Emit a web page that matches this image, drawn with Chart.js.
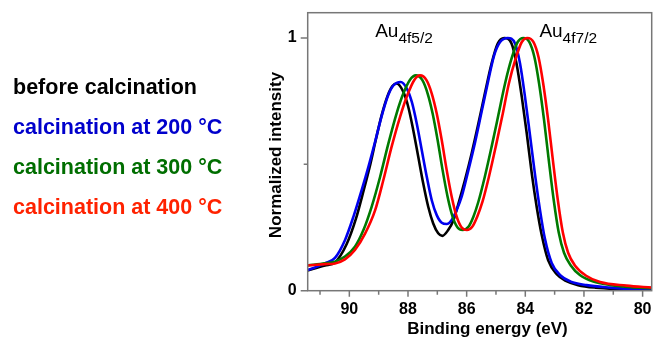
<!DOCTYPE html>
<html>
<head>
<meta charset="utf-8">
<script src="https://cdn.jsdelivr.net/npm/chart.js@4"></script>
<style>
  html, body { margin: 0; padding: 0; background: #fff; }
  canvas { display: block; }
</style>
</head>
<body>
<canvas id="xpsChart" width="654" height="341"></canvas>
<script>
// binding energy (eV) / normalized intensity
const beforeE = [91.42, 90.83, 90.49, 90.09, 89.78, 89.51, 89.28, 89.1, 88.9, 88.69, 88.53, 88.385, 88.16, 87.99, 87.82, 87.65, 87.48, 87.31, 87.14, 86.97, 86.83, 86.63, 86.45, 86.28, 86.06, 85.83, 85.6, 85.38, 85.15, 84.94, 84.72, 84.47, 84.3, 84.12, 83.95, 83.78, 83.61, 83.44, 83.22, 82.93, 82.6, 82.2, 81.6, 80.8, 79.69];
const beforeI = [0.08, 0.10, 0.112, 0.185, 0.283, 0.398, 0.503, 0.596, 0.694, 0.773, 0.81, 0.82, 0.787, 0.727, 0.635, 0.53, 0.424, 0.332, 0.266, 0.227, 0.217, 0.24, 0.279, 0.345, 0.437, 0.543, 0.661, 0.78, 0.899, 0.978, 1.0, 0.978, 0.899, 0.767, 0.622, 0.464, 0.33, 0.22, 0.12, 0.065, 0.038, 0.022, 0.012, 0.007, 0.004];

const c200E = [91.42, 90.83, 90.49, 90.15, 89.86, 89.58, 89.35, 89.12, 88.9, 88.67, 88.5, 88.25, 88.04, 87.87, 87.7, 87.53, 87.36, 87.19, 87.02, 86.85, 86.68, 86.51, 86.34, 86.17, 85.94, 85.71, 85.49, 85.26, 85.06, 84.86, 84.6, 84.35, 84.18, 84.01, 83.84, 83.67, 83.5, 83.33, 83.1, 82.8, 82.45, 81.91, 81.11, 80.4, 79.69];
const c200I = [0.082, 0.108, 0.13, 0.20, 0.293, 0.398, 0.49, 0.59, 0.69, 0.775, 0.812, 0.826, 0.80, 0.747, 0.661, 0.556, 0.451, 0.358, 0.299, 0.269, 0.264, 0.28, 0.319, 0.372, 0.477, 0.589, 0.708, 0.833, 0.932, 0.984, 1.0, 0.978, 0.899, 0.767, 0.615, 0.46, 0.32, 0.205, 0.11, 0.06, 0.036, 0.022, 0.012, 0.006, 0.003];

const c300E = [91.42, 90.83, 90.49, 90.15, 89.81, 89.52, 89.24, 88.95, 88.67, 88.39, 88.16, 87.93, 87.73, 87.51, 87.33, 87.16, 86.99, 86.82, 86.65, 86.48, 86.31, 86.14, 85.94, 85.77, 85.6, 85.38, 85.15, 84.92, 84.69, 84.47, 84.26, 84.07, 83.86, 83.69, 83.53, 83.36, 83.2, 83.03, 82.86, 82.68, 82.45, 82.14, 81.68, 81.11, 80.4, 79.69];
const c300I = [0.10, 0.108, 0.115, 0.135, 0.174, 0.24, 0.332, 0.451, 0.582, 0.701, 0.78, 0.835, 0.852, 0.833, 0.78, 0.701, 0.596, 0.477, 0.372, 0.293, 0.25, 0.24, 0.253, 0.293, 0.352, 0.451, 0.569, 0.694, 0.82, 0.918, 0.984, 1.0, 0.984, 0.925, 0.82, 0.675, 0.517, 0.358, 0.23, 0.15, 0.10, 0.062, 0.036, 0.023, 0.014, 0.01];

const c400E = [91.42, 90.83, 90.49, 90.15, 89.81, 89.46, 89.12, 88.84, 88.56, 88.27, 88.02, 87.79, 87.59, 87.37, 87.19, 87.02, 86.85, 86.68, 86.51, 86.34, 86.17, 85.99, 85.81, 85.64, 85.46, 85.24, 85.01, 84.78, 84.56, 84.33, 84.12, 83.93, 83.72, 83.55, 83.39, 83.22, 83.06, 82.89, 82.72, 82.54, 82.31, 81.91, 81.45, 80.55, 79.69];
const c400I = [0.10, 0.105, 0.108, 0.124, 0.161, 0.227, 0.319, 0.438, 0.569, 0.688, 0.774, 0.833, 0.852, 0.833, 0.78, 0.701, 0.596, 0.477, 0.372, 0.293, 0.25, 0.24, 0.253, 0.293, 0.352, 0.451, 0.569, 0.694, 0.82, 0.918, 0.984, 1.0, 0.984, 0.925, 0.82, 0.675, 0.517, 0.358, 0.23, 0.15, 0.10, 0.058, 0.034, 0.02, 0.012];

const seriesLabels = ["before calcination", "calcination at 200 °C", "calcination at 300 °C", "calcination at 400 °C"];
const lineColors = ["#000000", "#0000ee", "#007a00", "#ff0000"];
const textColors = ["#000000", "#0000cc", "#006e00", "#ff2200"];
const xTickValues = [80, 81, 82, 83, 84, 85, 86, 87, 88, 89, 90, 91];
const yTickValues = [0, 0.5, 1];
const yLabelTicks = [0, 1];
const peakLabels = [
    { main: "Au", sub: "4f5/2", e: 89.12, v: 1.005 },
    { main: "Au", sub: "4f7/2", e: 83.52, v: 1.005 }
];

function pairs(es, is) {
    return es.map((e, i) => ({ x: e, y: is[i] }));
}

const FONT = '"Liberation Sans", Arial, sans-serif';

// frame, tick marks, legend text and peak labels
const decor = {
    id: "decor",
    afterDatasetsDraw(chart) {
        const { ctx, chartArea: a, scales: { x, y } } = chart;
        ctx.save();
        ctx.strokeStyle = "#777777";
        ctx.lineWidth = 1.5;
        ctx.strokeRect(a.left, a.top, a.right - a.left, a.bottom - a.top);
        ctx.beginPath();
        x.ticks.forEach(t => {
            const px = x.getPixelForValue(t.value);
            const len = t.value % 2 === 0 ? 6 : 4;
            ctx.moveTo(px, a.bottom);
            ctx.lineTo(px, a.bottom + len);
        });
        y.ticks.forEach(t => {
            const py = y.getPixelForValue(t.value);
            const len = yLabelTicks.includes(t.value) ? 7 : 4;
            ctx.moveTo(a.left, py);
            ctx.lineTo(a.left - len, py);
        });
        ctx.stroke();
        ctx.restore();
    },
    afterDraw(chart) {
        const { ctx, scales: { x, y } } = chart;
        ctx.save();
        // legend
        ctx.font = "bold 21.5px " + FONT;
        ctx.textAlign = "left";
        ctx.textBaseline = "alphabetic";
        seriesLabels.forEach((s, i) => {
            ctx.fillStyle = textColors[i];
            ctx.fillText(s, 13, 94 + i * 40);
        });
        // peak labels
        ctx.fillStyle = "#000";
        peakLabels.forEach(p => {
            const px = x.getPixelForValue(p.e);
            const py = y.getPixelForValue(p.v);
            ctx.font = "19px " + FONT;
            ctx.fillText(p.main, px, py);
            const w = ctx.measureText(p.main).width;
            ctx.font = "15.5px " + FONT;
            ctx.fillText(p.sub, px + w, py + 6);
        });
        // axis titles
        ctx.font = "bold 17px " + FONT;
        ctx.textAlign = "center";
        ctx.fillText("Binding energy (eV)", 487.5, 334);
        ctx.translate(276, 155);
        ctx.rotate(-Math.PI / 2);
        ctx.textBaseline = "middle";
        ctx.fillText("Normalized intensity", 0, 0);
        ctx.restore();
    }
};

const sets = [[beforeE, beforeI], [c200E, c200I], [c300E, c300I], [c400E, c400I]];

new Chart(document.getElementById("xpsChart"), {
    type: "line",
    data: {
        datasets: sets.map((s, i) => ({
            label: seriesLabels[i],
            data: pairs(s[0], s[1]),
            borderColor: lineColors[i],
            borderWidth: 2.6,
            pointRadius: 0,
            fill: false,
            cubicInterpolationMode: "monotone",
            order: 4 - i
        }))
    },
    options: {
        responsive: false,
        animation: false,
        devicePixelRatio: 1,
        layout: { padding: { left: 0, top: 12.7, right: 2.3, bottom: 0 } },
        plugins: {
            legend: { display: false },
            tooltip: { enabled: false }
        },
        scales: {
            x: {
                type: "linear",
                reverse: true,
                min: 79.69,
                max: 91.42,
                afterBuildTicks: s => { s.ticks = xTickValues.map(v => ({ value: v })); },
                afterFit: s => {
                    s.height = 50.3;
                    s.paddingLeft = 0;
                    s.paddingRight = 0;
                },
                grid: { display: false, drawTicks: false },
                border: { display: false },
                ticks: {
                    padding: 9,
                    autoSkip: false,
                    maxRotation: 0,
                    color: "#000",
                    font: { family: FONT, size: 16, weight: "bold" },
                    callback: v => (v % 2 === 0) ? String(v) : ""
                }
            },
            y: {
                min: 0,
                max: 1.1,
                afterBuildTicks: s => { s.ticks = yTickValues.map(v => ({ value: v })); },
                afterFit: s => {
                    s.width = 307.7;
                    s.paddingTop = 0;
                    s.paddingBottom = 0;
                },
                grid: { display: false, drawTicks: false },
                border: { display: false },
                ticks: {
                    padding: 11,
                    autoSkip: false,
                    color: "#000",
                    font: { family: FONT, size: 16, weight: "bold" },
                    callback: v => yLabelTicks.includes(v) ? String(v) : ""
                }
            }
        }
    },
    plugins: [decor]
});
</script>
</body>
</html>
